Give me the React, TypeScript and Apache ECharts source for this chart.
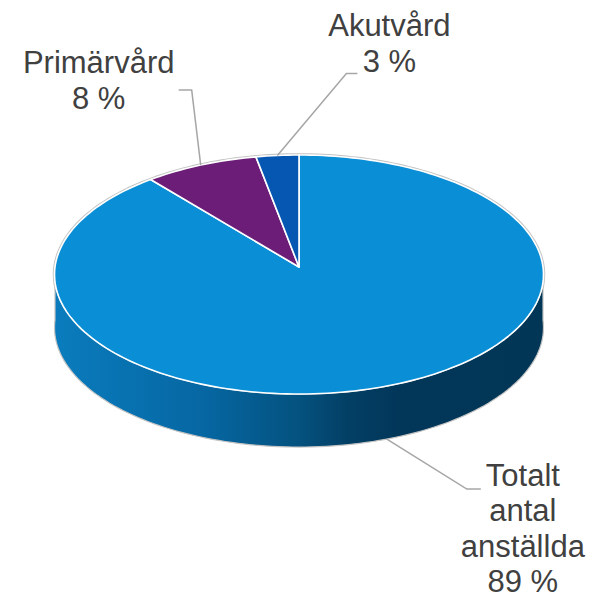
import React, { useEffect, useRef } from "react";
import * as echarts from "echarts";

const categories = ["Totalt antal anställda", "Primärvård", "Akutvård"];
const labelNames = ["Totalt\nantal\nanställda", "Primärvård", "Akutvård"];
const values = [89, 8, 3];
const colors = ["#0a8fd6", "#6c1d78", "#0557b2"];

// label layout: leader elbow offset from anchor, horizontal run, first baseline offset from leader end
const leaderBend = [[80, 50], [-9, -75], [69, -82]];
const leaderRun = [14, -13, 11];
const textOffset = [[42, -3], [-80, -17], [32, -37]];
const lineGaps = [35.5, 36.3, 36.3];

export default function App() {
  const ref = useRef<HTMLDivElement>(null);
  useEffect(() => {
    if (!ref.current) return;
    const chart = echarts.init(ref.current, null, { renderer: "svg" });
    const total = values.reduce((s, v) => s + v, 0);
    const cx = 299, cy = 267, rx = 244, A = -102.3, C = 0.0628, D = 53;
    const proj = (t: number, dz: number) => {
      const u = Math.sin(t), v = Math.cos(t);
      const d = 1 + C * v;
      return [cx + (rx * u) / d, (A * v + cy) / d + dz];
    };
    const arc = (t0: number, t1: number, dz: number) => {
      const n = Math.max(2, Math.ceil(((t1 - t0) / (2 * Math.PI)) * 240));
      const pts: number[][] = [];
      for (let k = 0; k <= n; k++) pts.push(proj(t0 + ((t1 - t0) * k) / n, dz));
      return pts;
    };
    const sideGrad = new echarts.graphic.LinearGradient(
      55, 0, 543, 0,
      [
        { offset: 0, color: "#0a7cbd" },
        { offset: 0.3, color: "#0667a3" },
        { offset: 0.5, color: "#04527f" },
        { offset: 0.6, color: "#033f65" },
        { offset: 0.7, color: "#02375a" },
        { offset: 1, color: "#023656" },
      ],
      true
    );
    const font = '"Liberation Sans", Arial, sans-serif';
    const fontSize = 31;
    const renderItem = (params: any, api: any) => {
      const i = params.dataIndex;
      const val = api.value(0);
      let cum = 0;
      for (let k = 0; k < i; k++) cum += values[k];
      const t0 = (cum / total) * 2 * Math.PI;
      const t1 = ((cum + val) / total) * 2 * Math.PI;
      const children: any[] = [];
      if (i === 0) {
        children.push({
          type: "polygon",
          shape: { points: arc(0, 2 * Math.PI, 0) },
          style: { fill: "none", stroke: "#c4c4c4", lineWidth: 3.5 },
        });
      }
      const s = Math.max(t0, Math.PI / 2), e = Math.min(t1, (3 * Math.PI) / 2);
      if (s < e) {
        const pts = arc(s, e, 0).concat(arc(s, e, D).reverse());
        children.push({
          type: "polygon",
          shape: { points: pts },
          style: { fill: sideGrad, stroke: "#c4c4c4", lineWidth: 1.2 },
        });
      }
      children.push({
        type: "polygon",
        shape: { points: [[cx, cy]].concat(arc(t0, t1, 0)) },
        style: { fill: colors[i], stroke: "#ffffff", lineWidth: 1.6, lineJoin: "round" },
      });
      const mid = (t0 + t1) / 2;
      const front = Math.cos(mid) < 0;
      const anchor = proj(mid, front ? D : 0);
      const bend = [anchor[0] + leaderBend[i][0], anchor[1] + leaderBend[i][1]];
      const end = [bend[0] + leaderRun[i], bend[1]];
      children.push({
        type: "polyline",
        shape: { points: [anchor, bend, end] },
        style: { fill: "none", stroke: "#a6a6a6", lineWidth: 1.5 },
      });
      const lines = (labelNames[i] + "\n" + Math.round((val / total) * 100) + " %").split("\n");
      const tx = end[0] + textOffset[i][0];
      const baseY = end[1] + textOffset[i][1];
      lines.forEach((ln, k) => {
        children.push({
          type: "text",
          style: {
            text: ln,
            x: tx,
            y: baseY + k * lineGaps[i] - 25,
            align: "center",
            verticalAlign: "top",
            fontSize,
            lineHeight: 28,
            fontFamily: font,
            fill: "#404040",
          },
        });
      });
      return { type: "group", children };
    };
    chart.setOption({
      animation: false,
      backgroundColor: "#ffffff",
      series: [
        {
          type: "custom",
          coordinateSystem: "none",
          renderItem,
          data: values.map((v, k) => ({ name: categories[k], value: [v] })),
        },
      ],
    });
    return () => chart.dispose();
  }, []);
  return (
    <div
      ref={ref}
      style={{ position: "fixed", left: 0, top: 0, width: 594, height: 601 }}
    />
  );
}
